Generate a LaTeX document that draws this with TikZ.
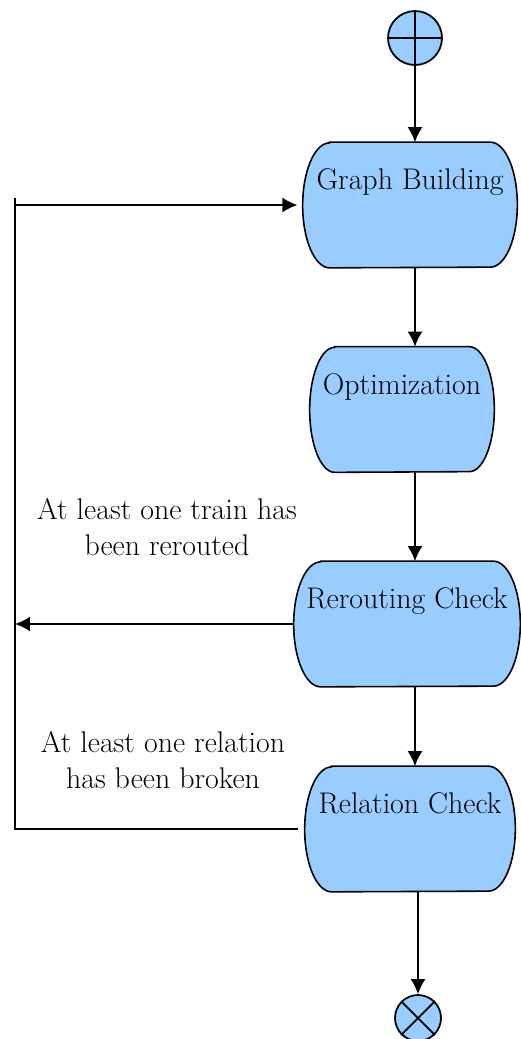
\documentclass[tikz,border=0pt]{standalone}
\usepackage{tikz}
\usetikzlibrary{positioning}
\usetikzlibrary{arrows.meta}
\usetikzlibrary{backgrounds}
\usetikzlibrary{calc}
\definecolor{actblue}{HTML}{99CCFF}

\tikzset{
  act/.style={inner sep=0pt, minimum width=#1, text height=0.94cm, text depth=1.56cm, font=\fontsize{17}{20}\selectfont},
  flow/.style={line width=1.1pt, -{Latex[length=3mm,width=3mm]}},
  loopline/.style={line width=1.1pt},
  cond/.style={align=center, font=\fontsize{17}{20}\selectfont}
}

\begin{document}
\begin{tikzpicture}[x=0.02cm,y=-0.02cm]
\useasboundingbox (0,0) rectangle (521,1039);

% start / stop
\node[circle, draw, fill=actblue, line width=1pt, minimum size=1.08cm, inner sep=0pt] (start) at (415,38) {};
\draw[line width=1pt] (start.north) -- (start.south) (start.west) -- (start.east);

\node[circle, draw, fill=actblue, line width=1pt, minimum size=0.92cm, inner sep=0pt] (stop) at (418,1018) {};
\draw[line width=1pt] (stop.north west) -- (stop.south east) (stop.north east) -- (stop.south west);

% activities
\node[act=4.28cm] (build) at (410,205) {Graph Building};
\node[act=3.68cm] (opt) at (402,409.5) {Optimization};
\node[act=4.52cm] (recheck) at (407,624) {Rerouting Check};
\node[act=4.2cm] (relcheck) at (410,829) {Relation Check};

\begin{scope}[on background layer]
\foreach \n/\r in {build/0.54cm, opt/0.5cm, recheck/0.54cm, relcheck/0.54cm}
  \filldraw[fill=actblue, line width=0.9pt] ($(\n.north west)+(\r,0)$) -- ($(\n.north east)+(-\r,0)$)
    arc[start angle=90, end angle=-90, x radius=\r, y radius=1.25cm] -- ($(\n.south west)+(\r,0)$)
    arc[start angle=270, end angle=90, x radius=\r, y radius=1.25cm] -- cycle;
\end{scope}

% main flow
\draw[flow] (start.south) -- (build.north -| start);
\draw[flow] (build.south -| start) -- (opt.north -| start);
\draw[flow] (opt.south -| start) -- (recheck.north -| start);
\draw[flow] (recheck.south -| start) -- (relcheck.north -| start);
\draw[flow] (relcheck.south -| stop) -- (stop.north);

% feedback
\coordinate (looptop) at (15,198);
\draw[loopline] ([xshift=-4pt]relcheck.west) -- (relcheck.west -| looptop) -- (looptop);
\draw[flow] (build.west -| looptop) -- ([xshift=-3pt]build.west);
\draw[flow] (recheck.west) -- (recheck.west -| looptop);

\node[cond] (rerouted) at (167,527) {At least one train has\\been rerouted};
\node[cond] (broken) at (163,760) {At least one relation\\has been broken};

\end{tikzpicture}
\end{document}
